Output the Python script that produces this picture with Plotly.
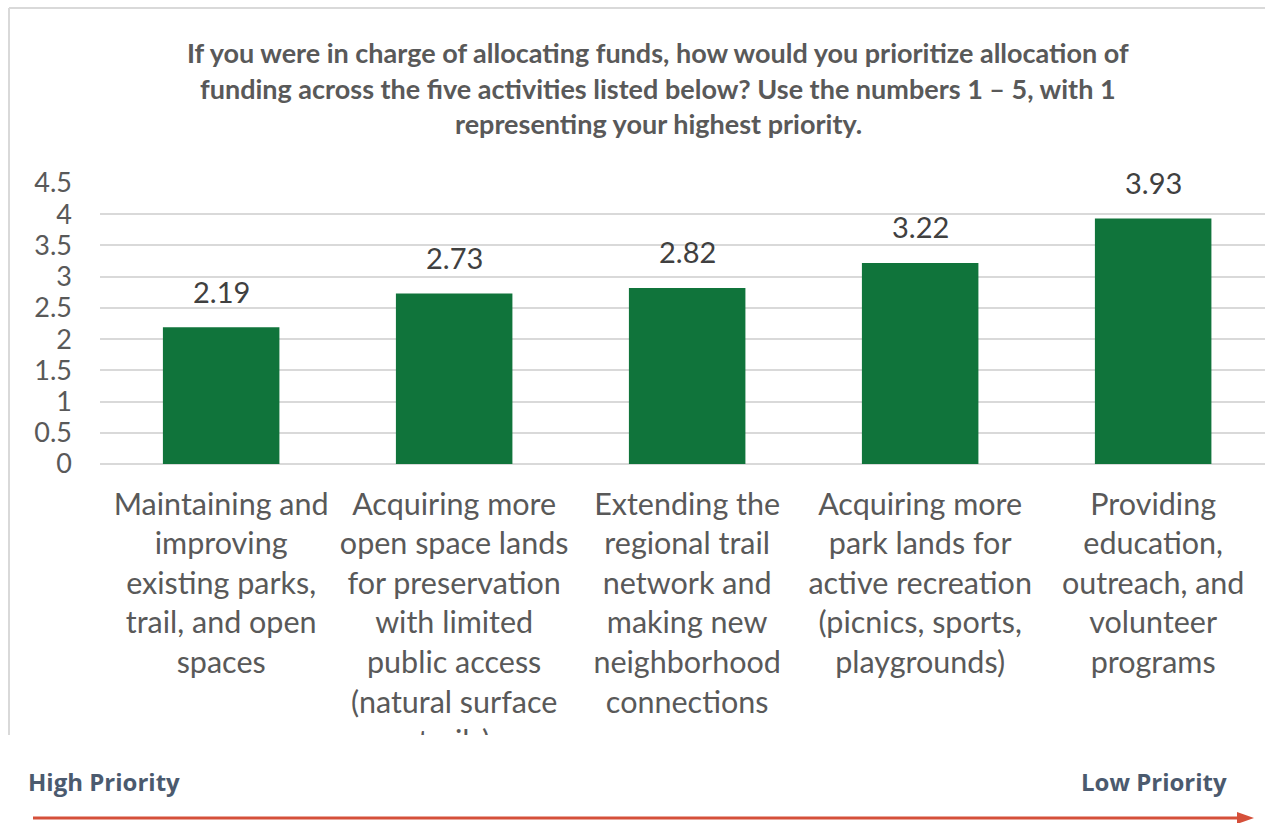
import plotly.graph_objects as go

categories = [
    "Maintaining and<br>improving<br>existing parks,<br>trail, and open<br>spaces",
    "Acquiring more<br>open space lands<br>for preservation<br>with limited<br>public access<br>(natural surface<br>trails)",
    "Extending the<br>regional trail<br>network and<br>making new<br>neighborhood<br>connections",
    "Acquiring more<br>park lands for<br>active recreation<br>(picnics, sports,<br>playgrounds)",
    "Providing<br>education,<br>outreach, and<br>volunteer<br>programs",
]
values = [2.19, 2.73, 2.82, 3.22, 3.93]
title_lines = [
    "If you were in charge of allocating funds, how would you prioritize allocation of",
    "funding across the five activities listed below? Use the numbers 1 \u2013 5, with 1",
    "representing your highest priority.",
]
y_ticks = [0, 0.5, 1, 1.5, 2, 2.5, 3, 3.5, 4, 4.5]

W, H = 1265, 823
L, R, T, B = 100, 1265, 183, 464


def px(x):
    return (x - L) / (R - L)


def py(y):
    return (B - y) / (B - T)


GREEN = "#10743B"
GRID = "#d9d9d9"
TXT = "#595959"
FONT = "Lato"

fig = go.Figure()
fig.add_trace(go.Bar(
    x=list(range(len(categories))),
    y=values,
    width=0.5,
    marker=dict(color=GREEN, line=dict(width=0)),
    hoverinfo="skip",
))

annotations = []
for i, v in enumerate(values):
    annotations.append(dict(
        x=i, y=v, xref="x", yref="y", text=f"{v:.2f}", showarrow=False,
        yanchor="middle", yshift=36, font=dict(family=FONT, size=29, color="#404040"),
    ))

title_y = [53, 88, 123]
for t, yy in zip(title_lines, title_y):
    annotations.append(dict(
        x=px(658), y=py(yy), xref="paper", yref="paper", text=f"<b>{t}</b>",
        showarrow=False, xanchor="center", yanchor="middle",
        font=dict(family=FONT, size=27, color=TXT),
    ))

annotations.append(dict(
    x=px(26), y=py(781), xref="paper", yref="paper", text="<b>High Priority</b>",
    showarrow=False, xanchor="left", yanchor="middle",
    font=dict(family="Open Sans", size=24, color="#4b5a6e"),
))
annotations.append(dict(
    x=px(1229), y=py(781), xref="paper", yref="paper", text="<b>Low Priority</b>",
    showarrow=False, xanchor="right", yanchor="middle",
    font=dict(family="Open Sans", size=24, color="#4b5a6e"),
))

ARROW = "#d5503a"
shapes = [
    # cover the bottom of the chart image (cut off)
    dict(type="rect", xref="paper", yref="paper", x0=px(0), x1=px(W), y0=py(H), y1=py(735),
         fillcolor="white", line=dict(width=0), layer="above"),
    # chart image border
    dict(type="line", xref="paper", yref="paper", x0=px(9), x1=px(9), y0=py(8), y1=py(735),
         line=dict(color=GRID, width=2), layer="above"),
    dict(type="line", xref="paper", yref="paper", x0=px(9), x1=px(W), y0=py(8), y1=py(8),
         line=dict(color=GRID, width=2), layer="above"),
    # arrow
    dict(type="line", xref="paper", yref="paper", x0=px(33), x1=px(1240), y0=py(818), y1=py(818),
         line=dict(color=ARROW, width=3), layer="above"),
    dict(type="path", xref="paper", yref="paper",
         path=f"M {px(1237)},{py(812)} L {px(1254)},{py(818)} L {px(1237)},{py(824)} Z",
         fillcolor=ARROW, line=dict(color=ARROW, width=0), layer="above"),
]

fig.update_layout(
    width=W, height=H,
    margin=dict(l=L, r=W - R, t=T, b=H - B, pad=0),
    plot_bgcolor="white", paper_bgcolor="white",
    showlegend=False,
    bargap=0.5,
    annotations=annotations,
    shapes=shapes,
    xaxis=dict(
        tickmode="array", tickvals=list(range(len(categories))), ticktext=categories,
        range=[-0.52, 4.48], showgrid=False, zeroline=False, showline=False,
        ticks="", ticklabelstandoff=19,
        tickfont=dict(family=FONT, size=30.5, color=TXT), fixedrange=True,
    ),
    yaxis=dict(
        range=[0, 4.5], tickmode="array", tickvals=y_ticks,
        ticktext=[f"{v:g}" for v in y_ticks],
        showgrid=True, gridcolor=GRID, gridwidth=2,
        zeroline=True, zerolinecolor=GRID, zerolinewidth=2, showline=False,
        ticks="", ticklabelstandoff=27,
        tickfont=dict(family=FONT, size=27, color=TXT), fixedrange=True,
    ),
)

fig.write_html(
    "out.html",
    config={"displayModeBar": False},
    post_script="document.body.style.margin='0';document.body.style.overflow='hidden';",
)
